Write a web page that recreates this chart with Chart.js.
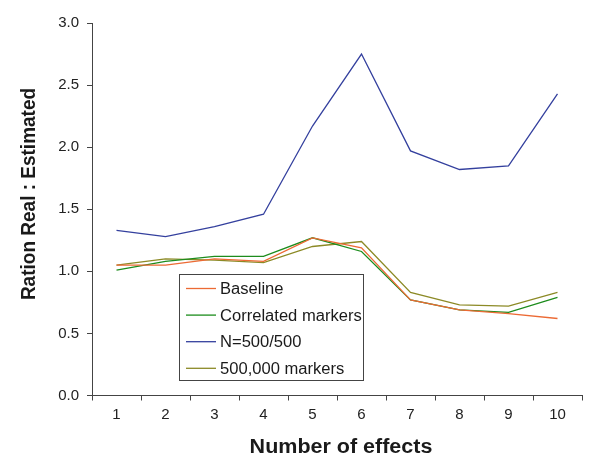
<!DOCTYPE html>
<html>
<head>
<meta charset="utf-8">
<script src="https://cdn.jsdelivr.net/npm/chart.js@4.4.1/dist/chart.umd.min.js"></script>
<style>
  html, body { margin: 0; padding: 0; background: #ffffff; }
  #wrap { width: 601px; height: 471px; position: relative; }
</style>
</head>
<body>
<div id="wrap"><canvas id="chart" width="601" height="471"></canvas></div>
<script>
const effects = ['1', '2', '3', '4', '5', '6', '7', '8', '9', '10'];
const baseline = [1.05, 1.05, 1.10, 1.08, 1.27, 1.19, 0.77, 0.69, 0.66, 0.62];
const correlated = [1.01, 1.08, 1.12, 1.12, 1.27, 1.16, 0.77, 0.69, 0.67, 0.79];
const n500 = [1.33, 1.28, 1.36, 1.46, 2.17, 2.75, 1.97, 1.82, 1.85, 2.43];
const markers500k = [1.05, 1.10, 1.09, 1.07, 1.20, 1.24, 0.83, 0.73, 0.72, 0.83];
const yTicks = [0, 0.5, 1, 1.5, 2, 2.5, 3];

const FONT = '"Liberation Sans", Arial, Helvetica, sans-serif';

function makeSet(label, data, color) {
    return {
        label: label,
        data: data,
        borderColor: color,
        backgroundColor: color,
        borderWidth: 1.3,
        pointRadius: 0,
        tension: 0,
        fill: false
    };
}

// legend box + axis titles drawn by hand to sit where the original has them
// (the source image is a bit wider than tall, so text gets a small x stretch)
const extras = {
    id: 'extras',
    afterDraw(chart) {
        const ctx = chart.ctx;
        ctx.save();

        // legend
        const bx = 179.5, by = 274.5, bw = 184, bh = 106;
        ctx.fillStyle = '#ffffff';
        ctx.fillRect(bx, by, bw, bh);
        ctx.strokeStyle = '#444444';
        ctx.lineWidth = 1;
        ctx.strokeRect(bx, by, bw, bh);
        ctx.font = '16px ' + FONT;
        ctx.textBaseline = 'middle';
        ctx.textAlign = 'left';
        chart.data.datasets.forEach((ds, i) => {
            const y = 288.5 + i * 26.6;
            ctx.strokeStyle = ds.borderColor;
            ctx.lineWidth = 1.3;
            ctx.beginPath();
            ctx.moveTo(186, y);
            ctx.lineTo(216, y);
            ctx.stroke();
            ctx.save();
            ctx.translate(220, y + 1);
            ctx.scale(1.035, 1);
            ctx.fillStyle = '#1a1a1a';
            ctx.fillText(ds.label, 0, 0);
            ctx.restore();
        });

        // axis titles
        ctx.fillStyle = '#1a1a1a';
        ctx.textAlign = 'center';
        ctx.save();
        ctx.font = 'bold 20px ' + FONT;
        ctx.translate(341, 447);
        ctx.scale(1.075, 1);
        ctx.fillText('Number of effects', 0, 0);
        ctx.restore();

        ctx.save();
        ctx.font = 'bold 19px ' + FONT;
        ctx.translate(29, 194);
        ctx.scale(1.075, 1);
        ctx.rotate(-Math.PI / 2);
        ctx.fillText('Ration Real : Estimated', 0, 0);
        ctx.restore();
        ctx.restore();
    }
};

new Chart(document.getElementById('chart'), {
    type: 'line',
    data: {
        labels: effects,
        datasets: [
            makeSet('Baseline', baseline, '#ec6a34'),
            makeSet('Correlated markers', correlated, '#1d8c1d'),
            makeSet('N=500/500', n500, '#34409e'),
            makeSet('500,000 markers', markers500k, '#8c8a26')
        ]
    },
    options: {
        responsive: false,
        animation: false,
        layout: { padding: { top: 23, right: 19, left: 0, bottom: 0 } },
        plugins: {
            legend: { display: false },
            tooltip: { enabled: false }
        },
        scales: {
            x: {
                type: 'category',
                offset: true,
                afterFit(scale) { scale.height = 75.5; },
                grid: {
                    offset: true,
                    drawOnChartArea: false,
                    drawTicks: true,
                    tickLength: 5,
                    color: '#444444'
                },
                border: { display: true, color: '#444444', width: 1 },
                ticks: {
                    color: '#222222',
                    font: { family: FONT, size: 15 },
                    padding: 5,
                    maxRotation: 0
                }
            },
            y: {
                min: 0,
                max: 3,
                afterFit(scale) { scale.width = 92; },
                afterBuildTicks(scale) { scale.ticks = yTicks.map(v => ({ value: v })); },
                grid: {
                    drawOnChartArea: false,
                    drawTicks: true,
                    tickLength: 5,
                    color: '#444444'
                },
                border: { display: true, color: '#444444', width: 1 },
                ticks: {
                    color: '#222222',
                    font: { family: FONT, size: 15 },
                    padding: 8,
                    callback: v => v.toFixed(1)
                }
            }
        }
    },
    plugins: [extras]
});
</script>
</body>
</html>
